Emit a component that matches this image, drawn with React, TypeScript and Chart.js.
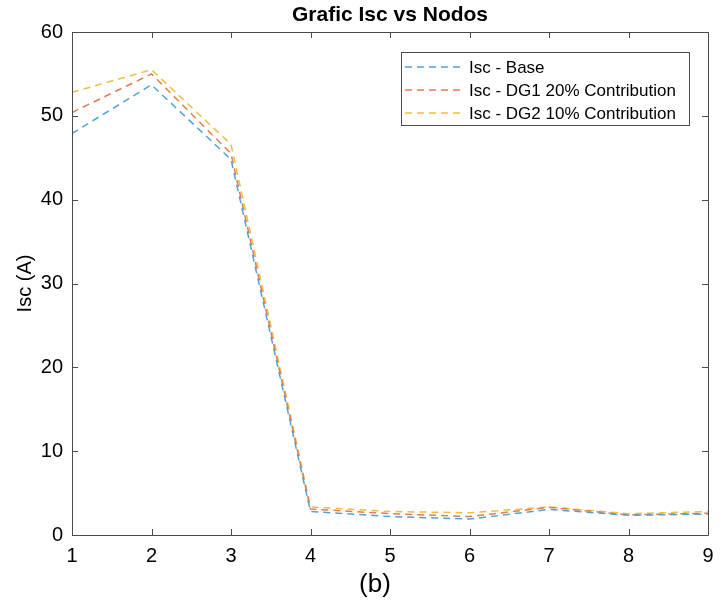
import React, { useEffect, useRef } from "react";
import { Chart, registerables } from "chart.js";

Chart.register(...registerables);

const nodes = [1, 2, 3, 4, 5, 6, 7, 8, 9];
const iscBase = [47.9, 53.7, 44.8, 2.8, 2.2, 1.9, 3.05, 2.35, 2.5];
const iscDG1 = [50.4, 55.0, 45.5, 3.1, 2.55, 2.2, 3.3, 2.4, 2.6];
const iscDG2 = [52.8, 55.5, 46.6, 3.35, 2.8, 2.65, 3.35, 2.55, 2.8];
const seriesLabels = ["Isc - Base", "Isc - DG1 20% Contribution", "Isc - DG2 10% Contribution"];
const seriesColors = ["#4fa3d6", "#e07d52", "#efbf45"];
const yTicks = [0, 10, 20, 30, 40, 50, 60];
const caption = "(b)";

const FONT = "'Liberation Sans', Arial, Helvetica, sans-serif";
const AXIS_COLOR = "#4a4a4a";

const boxPlugin = {
  id: "matlabBox",
  afterDatasetsDraw(chart: any) {
    const { ctx, chartArea, scales } = chart;
    const { left, right, top, bottom } = chartArea;
    ctx.save();
    ctx.strokeStyle = AXIS_COLOR;
    ctx.lineWidth = 1;
    ctx.beginPath();
    ctx.rect(left + 0.5, top + 0.5, right - left, bottom - top);
    ctx.stroke();
    const tl = 6;
    ctx.beginPath();
    for (const v of nodes) {
      const x = Math.round(scales.x.getPixelForValue(v)) + 0.5;
      ctx.moveTo(x, bottom);
      ctx.lineTo(x, bottom - tl);
      ctx.moveTo(x, top);
      ctx.lineTo(x, top + tl);
    }
    for (const v of yTicks) {
      const y = Math.round(scales.y.getPixelForValue(v)) + 0.5;
      ctx.moveTo(left, y);
      ctx.lineTo(left + tl, y);
      ctx.moveTo(right, y);
      ctx.lineTo(right - tl, y);
    }
    ctx.stroke();

    // legend
    const bx = right - 307;
    const by = top + 20;
    const bw = 288;
    const bh = 73;
    ctx.fillStyle = "#ffffff";
    ctx.fillRect(bx, by, bw, bh);
    ctx.strokeStyle = AXIS_COLOR;
    ctx.strokeRect(bx + 0.5, by + 0.5, bw, bh);
    ctx.font = `17px ${FONT}`;
    ctx.textBaseline = "middle";
    ctx.textAlign = "left";
    seriesLabels.forEach((lab, i) => {
      const y = by + 15 + i * 23;
      ctx.strokeStyle = seriesColors[i];
      ctx.lineWidth = 1.5;
      ctx.setLineDash([7, 5]);
      ctx.beginPath();
      ctx.moveTo(bx + 4, y);
      ctx.lineTo(bx + 62, y);
      ctx.stroke();
      ctx.setLineDash([]);
      ctx.fillStyle = "#000000";
      ctx.fillText(lab, bx + 68, y + 1);
    });

    // caption under the x axis
    ctx.font = `26px ${FONT}`;
    ctx.textAlign = "center";
    ctx.textBaseline = "middle";
    ctx.fillStyle = "#000000";
    ctx.fillText(caption, (left + right) / 2 - 15, bottom + 50);
    ctx.restore();
  },
};

export default function App() {
  const ref = useRef<HTMLCanvasElement>(null);
  useEffect(() => {
    const canvas = ref.current;
    if (!canvas) return;
    const series = [iscBase, iscDG1, iscDG2];
    const chart = new Chart(canvas, {
      type: "line",
      data: {
        datasets: series.map((vals, i) => ({
          label: seriesLabels[i],
          data: nodes.map((n, j) => ({ x: n, y: vals[j] })),
          borderColor: seriesColors[i],
          backgroundColor: seriesColors[i],
          borderWidth: 1.5,
          borderDash: [7, 5],
          pointRadius: 0,
          tension: 0,
          fill: false,
        })),
      },
      options: {
        responsive: false,
        animation: false,
        layout: { padding: { left: 0, right: 15, top: 0, bottom: 0 } },
        plugins: {
          legend: { display: false },
          tooltip: { enabled: false },
          title: {
            display: true,
            fullSize: false,
            text: "Grafic Isc vs Nodos",
            color: "#000",
            font: { family: FONT, size: 21, weight: "bold" },
            padding: { top: 3, bottom: 3.8 },
          },
        },
        scales: {
          x: {
            type: "linear",
            min: 1,
            max: 9,
            afterFit: (s: any) => {
              s.height = 69;
            },
            afterBuildTicks: (s: any) => {
              s.ticks = nodes.map((v) => ({ value: v }));
            },
            grid: { display: false, drawTicks: false },
            border: { display: false },
            ticks: {
              color: "#000",
              font: { family: FONT, size: 20 },
              padding: 9,
              maxRotation: 0,
              autoSkip: false,
            },
          },
          y: {
            type: "linear",
            min: 0,
            max: 60,
            afterFit: (s: any) => {
              s.width = 72;
            },
            afterBuildTicks: (s: any) => {
              s.ticks = yTicks.map((v) => ({ value: v }));
            },
            grid: { display: false, drawTicks: false },
            border: { display: false },
            ticks: {
              color: "#000",
              font: { family: FONT, size: 20 },
              padding: 9,
            },
            title: {
              display: true,
              text: "Isc (A)",
              color: "#000",
              font: { family: FONT, size: 20 },
              padding: { top: 13, bottom: 13 },
            },
          },
        },
      },
      plugins: [boxPlugin],
    } as any);
    return () => chart.destroy();
  }, []);
  return (
    <div style={{ position: "fixed", left: 0, top: 0, width: 723, height: 604, background: "#fff" }}>
      <canvas ref={ref} width={723} height={604} style={{ display: "block" }} />
    </div>
  );
}
